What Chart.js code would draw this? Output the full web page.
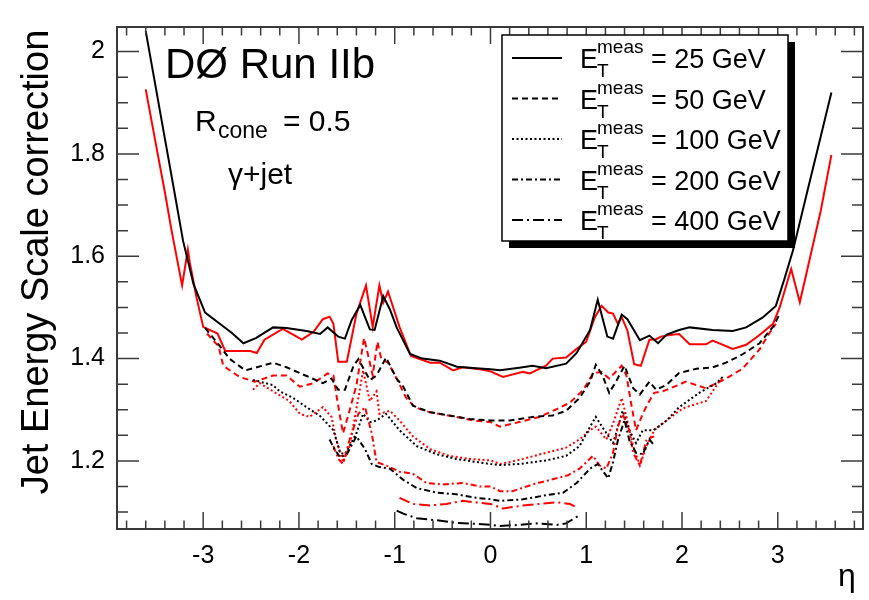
<!DOCTYPE html>
<html>
<head>
<meta charset="utf-8">
<script src="https://cdn.jsdelivr.net/npm/chart.js@4.4.0/dist/chart.umd.min.js"></script>
<style>
  html, body { margin: 0; padding: 0; background: #fff; }
  canvas { display: block; }
</style>
</head>
<body>
<canvas id="c" width="869" height="600"></canvas>
<script>
// E_T^meas values of the curves
const energies = [25, 50, 100, 200, 400];
const xTicks = [-3, -2, -1, 0, 1, 2, 3];
const yTicks = [1.2, 1.4, 1.6, 1.8, 2];

// black curves
const eta25k = [-3.60,-3.50,-3.40,-3.30,-3.21,-3.10,-2.98,-2.82,-2.70,-2.58,-2.45,-2.27,-2.13,-1.92,-1.78,-1.70,-1.59,-1.52,-1.45,-1.36,-1.26,-1.21,-1.12,-1.05,-0.98,-0.84,-0.71,-0.53,-0.35,-0.15,0.00,0.10,0.30,0.44,0.58,0.79,0.90,1.04,1.12,1.22,1.28,1.37,1.43,1.56,1.66,1.75,1.84,1.97,2.08,2.32,2.53,2.67,2.84,2.98,3.07,3.16,3.30,3.45,3.56];
const jes25k = [2.040,1.935,1.830,1.725,1.630,1.545,1.490,1.467,1.450,1.430,1.440,1.461,1.460,1.454,1.448,1.461,1.443,1.439,1.475,1.505,1.457,1.456,1.522,1.496,1.461,1.409,1.400,1.396,1.384,1.381,1.379,1.377,1.382,1.386,1.381,1.390,1.411,1.456,1.515,1.443,1.439,1.486,1.477,1.436,1.445,1.430,1.447,1.456,1.461,1.456,1.454,1.461,1.480,1.503,1.556,1.612,1.720,1.835,1.920];

const eta50k = [-2.98,-2.85,-2.72,-2.56,-2.44,-2.27,-2.13,-1.92,-1.75,-1.66,-1.59,-1.52,-1.43,-1.38,-1.26,-1.19,-1.09,-0.98,-0.91,-0.81,-0.63,-0.43,-0.22,0.00,0.20,0.44,0.65,0.79,0.93,1.04,1.10,1.17,1.24,1.31,1.40,1.49,1.56,1.66,1.73,1.84,1.97,2.15,2.32,2.46,2.63,2.81,2.95,3.02];
const jes50k = [1.460,1.430,1.399,1.377,1.383,1.392,1.383,1.366,1.352,1.361,1.339,1.339,1.386,1.399,1.358,1.367,1.402,1.361,1.345,1.308,1.295,1.289,1.282,1.279,1.279,1.286,1.289,1.298,1.323,1.355,1.388,1.367,1.333,1.355,1.386,1.342,1.330,1.355,1.339,1.349,1.372,1.380,1.383,1.392,1.408,1.430,1.462,1.487];

const eta100k = [-2.48,-2.41,-2.27,-2.20,-2.06,-1.92,-1.78,-1.64,-1.57,-1.52,-1.40,-1.33,-1.26,-1.19,-1.09,-0.95,-0.77,-0.56,-0.36,-0.15,0.00,0.10,0.30,0.58,0.79,0.93,1.04,1.10,1.19,1.28,1.38,1.45,1.52,1.59,1.70,1.84,1.97,2.18,2.36,2.44];
const jes100k = [1.358,1.355,1.348,1.336,1.323,1.305,1.288,1.260,1.216,1.213,1.254,1.292,1.276,1.279,1.292,1.260,1.229,1.213,1.204,1.198,1.194,1.192,1.194,1.201,1.210,1.229,1.267,1.286,1.260,1.235,1.298,1.260,1.235,1.260,1.260,1.279,1.305,1.333,1.352,1.367];

const eta200k = [-1.68,-1.63,-1.57,-1.50,-1.40,-1.31,-1.24,-1.16,-1.05,-0.91,-0.77,-0.56,-0.36,-0.15,0.00,0.10,0.34,0.58,0.76,0.90,1.04,1.12,1.23,1.28,1.33,1.40,1.45,1.52,1.59,1.66,1.71];
const jes200k = [1.242,1.223,1.207,1.213,1.248,1.223,1.194,1.188,1.185,1.163,1.147,1.138,1.135,1.128,1.125,1.122,1.125,1.133,1.138,1.157,1.185,1.194,1.166,1.198,1.240,1.280,1.240,1.216,1.213,1.242,1.230];

const eta400k = [-0.98,-0.91,-0.77,-0.56,-0.36,-0.15,0.00,0.10,0.30,0.48,0.69,0.79,0.93];
const jes400k = [1.103,1.097,1.088,1.084,1.079,1.077,1.075,1.073,1.075,1.078,1.075,1.078,1.094];

// red curves
const eta25r = [-3.60,-3.50,-3.40,-3.33,-3.22,-3.16,-3.14,-3.07,-3.00,-2.85,-2.77,-2.51,-2.44,-2.36,-2.17,-2.06,-1.97,-1.85,-1.75,-1.68,-1.64,-1.59,-1.50,-1.40,-1.30,-1.23,-1.16,-1.12,-1.07,-0.95,-0.83,-0.63,-0.53,-0.39,-0.29,-0.11,0.00,0.13,0.34,0.41,0.58,0.65,0.79,0.90,1.00,1.09,1.16,1.23,1.28,1.33,1.37,1.43,1.50,1.57,1.66,1.73,1.78,1.87,1.97,2.08,2.25,2.32,2.53,2.67,2.81,2.95,3.02,3.14,3.23,3.31,3.45,3.56];
const jes25r = [1.926,1.825,1.725,1.650,1.543,1.613,1.588,1.520,1.462,1.449,1.415,1.415,1.411,1.437,1.458,1.447,1.437,1.452,1.477,1.482,1.468,1.394,1.394,1.487,1.543,1.462,1.543,1.509,1.531,1.462,1.405,1.392,1.392,1.377,1.383,1.379,1.375,1.364,1.374,1.371,1.386,1.400,1.402,1.419,1.433,1.481,1.503,1.490,1.488,1.468,1.481,1.455,1.389,1.386,1.437,1.438,1.443,1.446,1.448,1.428,1.428,1.435,1.419,1.427,1.446,1.468,1.500,1.575,1.510,1.575,1.690,1.798];

const eta50r = [-2.96,-2.84,-2.79,-2.62,-2.46,-2.27,-2.13,-1.99,-1.85,-1.70,-1.64,-1.61,-1.57,-1.54,-1.49,-1.40,-1.32,-1.26,-1.23,-1.18,-1.14,-1.07,-0.98,-0.88,-0.79,-0.63,-0.36,-0.18,0.00,0.10,0.30,0.51,0.69,0.83,0.97,1.07,1.16,1.24,1.37,1.42,1.47,1.52,1.59,1.64,1.71,1.80,1.97,2.04,2.25,2.46,2.63,2.81,2.91,2.98];
const jes50r = [1.449,1.424,1.386,1.364,1.355,1.367,1.367,1.345,1.352,1.371,1.367,1.330,1.286,1.254,1.286,1.348,1.440,1.392,1.367,1.433,1.399,1.392,1.361,1.323,1.305,1.295,1.286,1.279,1.276,1.267,1.276,1.286,1.301,1.314,1.339,1.371,1.374,1.361,1.386,1.367,1.311,1.260,1.292,1.311,1.333,1.336,1.349,1.355,1.342,1.361,1.380,1.418,1.449,1.468];

const eta100r = [-2.48,-2.41,-2.27,-2.10,-1.99,-1.89,-1.75,-1.66,-1.61,-1.54,-1.47,-1.38,-1.33,-1.26,-1.19,-1.16,-1.05,-0.95,-0.81,-0.63,-0.43,-0.22,0.00,0.10,0.34,0.58,0.79,0.93,1.04,1.10,1.21,1.28,1.37,1.42,1.49,1.56,1.63,1.71,1.84,1.97,2.04,2.25,2.32,2.41];
const jes100r = [1.339,1.352,1.336,1.317,1.292,1.286,1.305,1.286,1.241,1.198,1.229,1.323,1.377,1.317,1.336,1.292,1.298,1.279,1.248,1.223,1.210,1.204,1.201,1.194,1.204,1.216,1.226,1.242,1.260,1.267,1.242,1.273,1.323,1.286,1.229,1.191,1.229,1.260,1.279,1.298,1.305,1.317,1.336,1.361];

const eta200r = [-1.64,-1.59,-1.54,-1.47,-1.38,-1.31,-1.24,-1.19,-1.09,-0.95,-0.81,-0.67,-0.50,-0.29,-0.11,0.00,0.10,0.23,0.44,0.62,0.81,0.93,1.07,1.14,1.21,1.28,1.33,1.38,1.45,1.49,1.56,1.63,1.71];
const jes200r = [1.229,1.204,1.194,1.242,1.292,1.305,1.254,1.198,1.191,1.179,1.175,1.157,1.154,1.157,1.150,1.150,1.141,1.141,1.154,1.163,1.172,1.185,1.210,1.191,1.185,1.216,1.267,1.292,1.260,1.216,1.191,1.242,1.248];

const eta400r = [-0.95,-0.81,-0.63,-0.46,-0.29,-0.15,0.00,0.13,0.34,0.51,0.69,0.83,0.91];
const jes400r = [1.128,1.116,1.113,1.116,1.122,1.119,1.116,1.107,1.113,1.116,1.119,1.116,1.108];

const blackEta = [eta25k, eta50k, eta100k, eta200k, eta400k];
const blackJes = [jes25k, jes50k, jes100k, jes200k, jes400k];
const redEta = [eta25r, eta50r, eta100r, eta200r, eta400r];
const redJes = [jes25r, jes50r, jes100r, jes200r, jes400r];

// line styles per energy
const dashes = [[], [6, 4], [2, 2.5], [6, 3, 2, 3], [11, 4, 2, 4]];

function series(etas, vals, color, dash) {
    return {
        data: etas.map((x, i) => ({ x: x, y: vals[i] })),
        showLine: true,
        borderColor: color,
        borderWidth: 2,
        borderDash: dash,
        pointRadius: 0,
        fill: false,
        tension: 0
    };
}

const datasets = [];
for (let i = energies.length - 1; i >= 0; i--) {
    datasets.push(series(blackEta[i], blackJes[i], '#000000', dashes[i]));
    datasets.push(series(redEta[i], redJes[i], '#ff0000', dashes[i]));
}

const FONT = '"Liberation Sans", Arial, Helvetica, sans-serif';
const AXIS = '#3a3a3a';

// ROOT style frame with inward ticks, texts and legend
const decorations = {
    id: 'decorations',
    afterDatasetsDraw(chart) {
        const ctx = chart.ctx;
        const a = chart.chartArea;
        const xs = chart.scales.x, ys = chart.scales.y;
        ctx.save();
        ctx.strokeStyle = AXIS;
        ctx.lineWidth = 2;
        ctx.strokeRect(a.left, a.top, a.right - a.left, a.bottom - a.top);

        ctx.lineWidth = 1.5;
        ctx.beginPath();
        for (let k = -19; k <= 19; k++) {
            const v = k / 5;
            const px = xs.getPixelForValue(v);
            if (px <= a.left + 1 || px >= a.right - 1) continue;
            const len = (k % 5 === 0) ? 17 : 8.5;
            ctx.moveTo(px, a.bottom); ctx.lineTo(px, a.bottom - len);
            ctx.moveTo(px, a.top); ctx.lineTo(px, a.top + len);
        }
        for (let k = 21; k <= 41; k++) {
            const v = k / 20;
            const py = ys.getPixelForValue(v);
            if (py <= a.top + 1 || py >= a.bottom - 1) continue;
            const len = (k % 4 === 0) ? 22 : 11;
            ctx.moveTo(a.left, py); ctx.lineTo(a.left + len, py);
            ctx.moveTo(a.right, py); ctx.lineTo(a.right - len, py);
        }
        ctx.stroke();

        // axis titles
        ctx.fillStyle = '#000';
        ctx.font = '38px ' + FONT;
        ctx.save();
        ctx.translate(48, 262);
        ctx.rotate(-Math.PI / 2);
        ctx.textAlign = 'center';
        ctx.textBaseline = 'alphabetic';
        ctx.fillText('Jet Energy Scale correction', 0, 0);
        ctx.restore();

        ctx.textAlign = 'left';
        ctx.textBaseline = 'alphabetic';
        ctx.font = '32px ' + FONT;
        ctx.fillText('η', 838, 586);

        // labels in the plot
        ctx.font = '42px ' + FONT;
        ctx.fillText('DØ Run IIb', 165, 78);
        ctx.font = '30px ' + FONT;
        ctx.fillText('R', 195, 131);
        ctx.font = '23px ' + FONT;
        ctx.fillText('cone', 218, 138);
        ctx.font = '30px ' + FONT;
        ctx.fillText('= 0.5', 283, 131);
        ctx.fillText('γ+jet', 228, 184);

        // legend
        const bx = 502, by = 35, bw = 286, bh = 206;
        ctx.fillStyle = '#000';
        ctx.fillRect(bx + 7, by + 7, bw, bh);
        ctx.fillStyle = '#fff';
        ctx.fillRect(bx, by, bw, bh);
        ctx.strokeStyle = '#000';
        ctx.lineWidth = 1.5;
        ctx.strokeRect(bx, by, bw, bh);

        for (let i = 0; i < energies.length; i++) {
            const cy = 58 + i * 40.5;
            ctx.strokeStyle = '#000';
            ctx.lineWidth = 2;
            ctx.setLineDash(dashes[i]);
            ctx.beginPath();
            ctx.moveTo(512, cy); ctx.lineTo(562, cy);
            ctx.stroke();
            ctx.setLineDash([]);
            ctx.fillStyle = '#000';
            ctx.font = '27px ' + FONT;
            ctx.fillText('E', 580, cy + 10);
            ctx.font = '19px ' + FONT;
            ctx.fillText('meas', 597, cy - 5);
            ctx.fillText('T', 597, cy + 19);
            ctx.font = '27px ' + FONT;
            ctx.fillText('= ' + energies[i] + ' GeV', 651, cy + 10);
        }
        ctx.restore();
    }
};

new Chart(document.getElementById('c'), {
    type: 'scatter',
    data: { datasets: datasets },
    options: {
        responsive: false,
        animation: false,
        events: [],
        layout: { padding: { left: 0, top: 9, right: 6, bottom: 0 } },
        plugins: { legend: { display: false }, tooltip: { enabled: false } },
        scales: {
            x: {
                type: 'linear',
                min: -3.9,
                max: 3.89,
                grid: { display: false, drawTicks: false },
                border: { display: false },
                afterFit(s) { s.height = 71; },
                afterBuildTicks(s) { s.ticks = xTicks.map(v => ({ value: v })); },
                ticks: {
                    color: '#000',
                    padding: 12,
                    font: { family: FONT, size: 25 },
                    callback: v => String(v)
                }
            },
            y: {
                type: 'linear',
                min: 1.067,
                max: 2.048,
                grid: { display: false, drawTicks: false },
                border: { display: false },
                afterFit(s) { s.width = 117; },
                afterBuildTicks(s) { s.ticks = yTicks.map(v => ({ value: v })); },
                ticks: {
                    color: '#000',
                    padding: 12,
                    font: { family: FONT, size: 25 },
                    callback: v => String(Math.round(v * 10) / 10)
                }
            }
        }
    },
    plugins: [decorations]
});
</script>
</body>
</html>
